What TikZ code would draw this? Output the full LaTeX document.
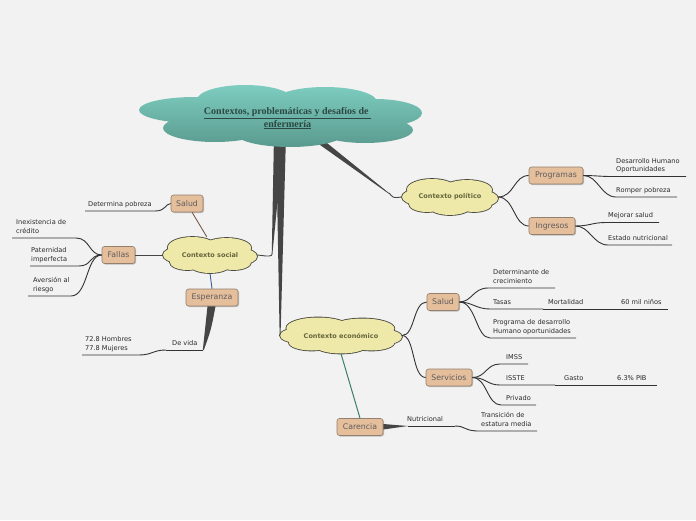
\documentclass[tikz,border=0pt]{standalone}
\usepackage{fontspec}
\setmainfont{DejaVu Sans}
\newfontfamily\titlefont{Liberation Serif}
\usetikzlibrary{shapes.geometric,shadows,calc}
\definecolor{bg}{HTML}{F2F2F2}
\definecolor{trunk}{HTML}{454545}
\definecolor{leafline}{HTML}{333333}
\definecolor{leaftext}{HTML}{2A2A2A}
\definecolor{boxfill}{HTML}{E5BE9B}
\definecolor{boxline}{HTML}{94806E}
\definecolor{boxtext}{HTML}{5E5E5E}
\definecolor{cloudfill}{HTML}{EEE8A9}
\definecolor{cloudline}{HTML}{4A4A40}
\definecolor{cloudtext}{HTML}{66663D}
\definecolor{tealtop}{HTML}{7DCDC0}
\definecolor{tealbot}{HTML}{5A9A8E}
\definecolor{titletext}{HTML}{2C4843}
\definecolor{brownline}{HTML}{7A5A4A}
\definecolor{blueline}{HTML}{3D5C9A}
\definecolor{greenline}{HTML}{3A7E6A}
\newcommand\ylobes{(-18,-7.5) ellipse [x radius=25pt, y radius=10.5pt]
 (17,-7) ellipse [x radius=25pt, y radius=10pt]
 (-33,0) ellipse [x radius=15pt, y radius=7.5pt]
 (33,1.5) ellipse [x radius=15pt, y radius=7.5pt]
 (-23,7) ellipse [x radius=18pt, y radius=8pt]
 (0,9.5) ellipse [x radius=21pt, y radius=8.5pt]
 (24,7) ellipse [x radius=18pt, y radius=8pt]
 (0,0) ellipse [x radius=38pt, y radius=12pt]}
\tikzset{
  pics/ycloud/.style={code={
    \path[draw=cloudline, line width=1.7pt] \ylobes;
    \path[fill=cloudfill] \ylobes;
  }},
  topic/.style={draw=boxline, fill=boxfill, rounded corners=2.5pt, text=boxtext,
    font=\fontsize{7.8}{9}\selectfont, minimum height=17pt, inner xsep=3pt, inner ysep=0pt,
    line width=0.6pt,
    drop shadow={shadow xshift=1pt, shadow yshift=-1pt, fill=black, opacity=0.22}},
  cloudlabel/.style={ellipse, inner sep=0pt, text=cloudtext,
    font=\bfseries\fontsize{6.5}{8}\selectfont},
  leaf/.style={font=\fontsize{6.6}{8.8}\selectfont, text=leaftext, inner sep=0pt,
    anchor=south west, align=left, text depth=1.5pt},
  ll/.style={draw=leafline, line width=0.9pt},
  tk/.style={fill=trunk},
}
\begin{document}
\begin{tikzpicture}[x=1pt,y=-1pt]
\fill[bg] (0,0) rectangle (696,520);
\useasboundingbox (0,0) rectangle (696,520);

% tapered trunk connectors (under the central cloud)
\coordinate (socj) at (272.2,252);
\coordinate (ecj) at (280.1,333);
\coordinate (polj) at (389,193);
\fill[tk] (274,135) -- (284,135) -- (272.6,252) -- (271.8,252) -- cycle;
\fill[tk] (276,135) -- (286,135) -- (280.6,333) -- (279.6,333) -- cycle;
\fill[tk] (306,135) -- (317,135) -- (389.4,193.4) -- (388.6,193.6) -- cycle;

% central cloud
\shade[top color=tealtop, bottom color=tealbot]
 (245,100) ellipse [x radius=48pt, y radius=15pt]
 (325,102) ellipse [x radius=52pt, y radius=15pt]
 (195,110) ellipse [x radius=56pt, y radius=13pt]
 (375,113) ellipse [x radius=47pt, y radius=14pt]
 (215,128) ellipse [x radius=52pt, y radius=14pt]
 (290,133) ellipse [x radius=55pt, y radius=14pt]
 (365,130) ellipse [x radius=48pt, y radius=13pt]
 (281,116) ellipse [x radius=100pt, y radius=22pt];
\node[align=center, text=titletext, inner sep=0pt,
  font=\titlefont\bfseries\fontsize{10}{9.3}\selectfont] (main) at (287.5,118.5)
  {\underline{Contextos, problemáticas y desafíos de }\\\underline{enfermería}};

% small clouds
\pic[xscale=0.98] at (210,255) {ycloud};
\pic at (450,197) {ycloud};
\pic[xscale=1.27] at (341,335.5) {ycloud};
\node[cloudlabel, minimum width=94pt, minimum height=36pt] (soc) at (210,255) {Contexto social};
\node[cloudlabel, minimum width=96pt, minimum height=36pt] (pol) at (450,197) {Contexto político};
\node[cloudlabel, minimum width=122pt, minimum height=36pt] (ec) at (341,335.5) {Contexto económico};

% trunk ends
\draw[trunk, line width=0.9pt] (socj) .. controls (272,256) .. (266,256) -- (soc.east);
\draw[trunk, line width=0.9pt] (ecj) -- (ec.west);
\draw[trunk, line width=0.9pt] (polj) .. controls (393,197.5) .. (397,197.5) -- (pol.west);

% topic boxes
\node[topic, minimum width=32pt] (s1) at (187,203.5) {Salud};
\node[topic, minimum width=33pt] (fa) at (118.5,255) {Fallas};
\node[topic, minimum width=52pt] (esp) at (212,297.5) {Esperanza};
\node[topic, minimum width=54pt] (pr) at (556,175.5) {Programas};
\node[topic, minimum width=46pt] (ing) at (552,226) {Ingresos};
\node[topic, minimum width=32pt] (s2) at (443,302) {Salud};
\node[topic, minimum width=46pt] (sv) at (449,377.5) {Servicios};
\node[topic, minimum width=46pt] (ca) at (360,427) {Carencia};

% cloud to box connectors
\draw[brownline, line width=0.9pt] (soc.100) -- (s1.-60);
\draw[trunk, line width=0.9pt] (soc.west) -- (fa.east);
\draw[blueline, line width=0.9pt] (soc.south) -- (esp.north);
\draw[ll] (pol.east) .. controls (514,197) and (514,175.5) .. (pr.west);
\draw[ll] (pol.east) .. controls (514,197) and (514,226) .. (ing.west);
\draw[ll] (ec.east) .. controls (415,335.5) and (413,302) .. (s2.west);
\draw[ll] (ec.east) .. controls (415,335.5) and (412,377.5) .. (sv.west);
\draw[greenline, line width=1pt] (ec.south) -- (ca.north);

% --- social leaves
\node[leaf] (dp) at (88,208) {Determina pobreza};
\coordinate (dpe) at (85,211);
\draw[ll] (s1.west) .. controls (165,204) and (166,211) .. (155,211) -- (dpe);

\node[leaf] (inx) at (16,235) {Inexistencia de\\crédito};
\coordinate (inxe) at (12,238);
\draw[ll] (fa.west) .. controls (89,255) and (90,238) .. (76,238) -- (inxe);
\node[leaf] (pat) at (31,263) {Paternidad\\imperfecta};
\coordinate (pate) at (30,266);
\draw[ll] (fa.west) .. controls (89,255) and (92,266) .. (79,266) -- (pate);
\node[leaf] (ave) at (33,293) {Aversión al\\riesgo};
\coordinate (avee) at (28,296);
\draw[ll] (fa.west) .. controls (86,255) and (88,296) .. (71,296) -- (avee);

\node[leaf] (dv) at (172,347) {De vida};
\coordinate (dvj) at (203,350);
\coordinate (dvm) at (166,350);
\fill[tk] ($(esp.south)+(-4.5,0)$) .. controls (205,328) .. (202.8,350) -- (203.8,350)
  .. controls (211,330) .. ($(esp.south)+(3.5,0)$) -- cycle;
\draw[ll] (dvj) -- (dvm);
\node[leaf] (hm) at (85,352) {72.8 Hombres\\77.8 Mujeres};
\coordinate (hme) at (82,355);
\draw[ll] (dvm) .. controls (153,350) and (152,355) .. (139,355) -- (hme);

% --- political leaves
\node[leaf] (dh) at (616,173.5) {Desarrollo Humano\\Oportunidades};
\coordinate (dhe) at (686,176.5);
\draw[ll] (pr.east) .. controls (595,175.5) and (600,176.5) .. (612,176.5) -- (dhe);
\node[leaf] (rp) at (616,194) {Romper pobreza};
\coordinate (rpe) at (677,197);
\draw[ll] (pr.east) .. controls (598,175.5) and (601,197) .. (616,197) -- (rpe);
\node[leaf] (ms) at (608,219.5) {Mejorar salud};
\coordinate (mse) at (659,222.5);
\draw[ll] (ing.east) .. controls (590,226) and (592,222.5) .. (606,222.5) -- (mse);
\node[leaf] (en) at (608,242) {Estado nutricional};
\coordinate (ene) at (672,245);
\draw[ll] (ing.east) .. controls (590,226) and (593,245) .. (608,245) -- (ene);

% --- economic: salud leaves
\node[leaf] (dc) at (493,285) {Determinante de\\crecimiento};
\coordinate (dce) at (555,288);
\draw[ll] (s2.east) .. controls (472,302) and (473,288) .. (488,288) -- (dce);
\node[leaf] (ta) at (493,306) {Tasas};
\node[leaf] (mo) at (548,306) {Mortalidad};
\node[leaf] (ni) at (621,306) {60 mil niños};
\coordinate (tae) at (543,309);
\coordinate (moe) at (615,309);
\coordinate (nie) at (668,309);
\draw[ll] (s2.east) .. controls (472,302) and (476,309) .. (490,309) -- (tae);
\draw[ll] (tae) -- (moe);
\draw[ll] (moe) -- (nie);
\node[leaf] (pd) at (493,335) {Programa de desarrollo\\Humano oportunidades};
\coordinate (pde) at (576,338);
\draw[ll] (s2.east) .. controls (476,302) and (476,338) .. (490,338) -- (pde);

% --- economic: servicios leaves
\node[leaf] (im) at (506,361) {IMSS};
\coordinate (ime) at (528,364);
\draw[ll] (sv.east) .. controls (486,377.5) and (486,364) .. (500,364) -- (ime);
\node[leaf] (is) at (506,382) {ISSTE};
\node[leaf] (ga) at (564,382) {Gasto};
\node[leaf] (pib) at (617,382) {6.3\% PIB};
\coordinate (ise) at (555,385);
\coordinate (gae) at (610,385);
\coordinate (pibe) at (657,385);
\draw[ll] (sv.east) .. controls (486,377.5) and (487,385) .. (500,385) -- (ise);
\draw[ll] (ise) -- (gae);
\draw[ll] (gae) -- (pibe);
\node[leaf] (pv) at (506,402) {Privado};
\coordinate (pve) at (536,405);
\draw[ll] (sv.east) .. controls (487,377.5) and (487,405) .. (501,405) -- (pve);

% --- carencia leaves
\node[leaf] (nu) at (407,423) {Nutricional};
\coordinate (nuj) at (408,426);
\coordinate (nue) at (455,426);
\fill[tk] ($(ca.east)+(0,-3)$) -- (nuj) -- ($(ca.east)+(0,2.5)$) -- cycle;
\draw[ll] (nuj) -- (nue);
\node[leaf] (tr) at (481,428) {Transición de\\estatura media};
\coordinate (tre) at (537,431);
\draw[ll] (nue) .. controls (466,426) and (464,431) .. (479,431) -- (tre);
\end{tikzpicture}
\end{document}
